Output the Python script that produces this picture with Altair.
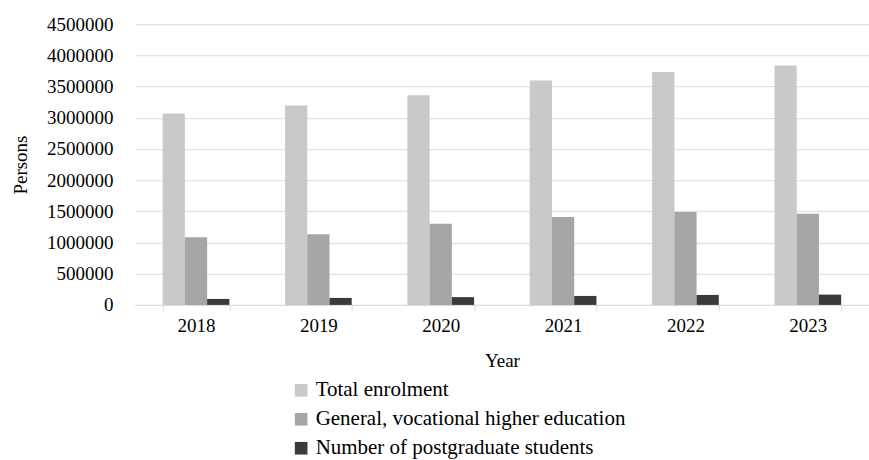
import altair as alt
import pandas as pd

years = ["2018", "2019", "2020", "2021", "2022", "2023"]
series = ["Total enrolment", "General, vocational higher education", "Number of postgraduate students"]
total = [3070000, 3198000, 3363000, 3598000, 3736000, 3838000]
general = [1084000, 1132000, 1302000, 1409000, 1489000, 1462000]
postgrad = [96000, 112000, 125000, 144000, 160000, 165000]
colors = ["#c9c9c9", "#a6a6a6", "#3a3a3a"]

rows = []
for i, y in enumerate(years):
    for s, vals in zip(series, [total, general, postgrad]):
        rows.append({"Year": y, "Series": s, "Value": vals[i]})
df = pd.DataFrame(rows)

FONT = "Liberation Serif"

chart = alt.Chart(df).mark_bar().encode(
    x=alt.X("Year:N", sort=years,
            scale=alt.Scale(paddingInner=0.455, paddingOuter=0.2275),
            axis=alt.Axis(title="Year", labelAngle=0, tickBand="extent", ticks=True,
                          tickSize=6, tickColor="#d9d9d9", domainColor="#d9d9d9",
                          labelPadding=6, titlePadding=16, grid=False)),
    xOffset=alt.XOffset("Series:N", sort=series, scale=alt.Scale(paddingInner=0, paddingOuter=0)),
    y=alt.Y("Value:Q", scale=alt.Scale(domain=[0, 4500000]),
            axis=alt.Axis(title="Persons", values=list(range(0, 4500001, 500000)), format="d",
                          ticks=False, domain=False, gridColor="#e3e3e3", gridWidth=1.3,
                          labelPadding=22, titlePadding=16)),
    color=alt.Color("Series:N", sort=series,
                    scale=alt.Scale(domain=series, range=colors),
                    legend=alt.Legend(title=None, orient="none", legendX=156, legendY=356,
                                      symbolType="square", symbolSize=160,
                                      symbolStrokeWidth=0, labelFontSize=21, rowPadding=7,
                                      labelLimit=0, labelOffset=4,
                                      labelFont=FONT, labelColor="#000000")),
).properties(
    width=735, height=281,
    autosize=alt.AutoSizeParams(type="none"),
    padding={"left": 135, "top": 24, "right": 0, "bottom": 155},
).configure_view(stroke=None).configure_axis(
    labelFont=FONT, titleFont=FONT, labelFontSize=19, titleFontSize=19,
    labelColor="#000000", titleColor="#000000", titleFontWeight="normal"
)

chart.save("out.html", embed_options={"renderer": "svg", "actions": False})
